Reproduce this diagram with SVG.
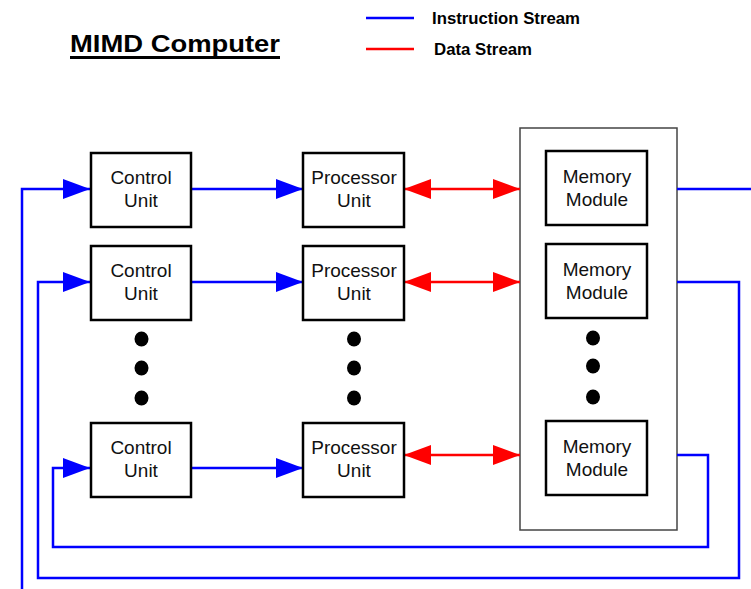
<svg xmlns="http://www.w3.org/2000/svg" width="751" height="589" viewBox="0 0 751 589">
<style>
.box{fill:#fff;stroke:#000;stroke-width:2.5}
.lbl{font-family:"Liberation Sans",Arial,sans-serif;font-size:19px;fill:#111;text-anchor:middle}
.blue{fill:none;stroke:#0000ff;stroke-width:2.5}
.red{fill:none;stroke:#ff0000;stroke-width:2.5}
.leg{font-family:"Liberation Sans",Arial,sans-serif;font-size:16px;font-weight:bold;fill:#000}
.dot{fill:#000}
</style>
<defs>
<marker id="ab" markerUnits="userSpaceOnUse" markerWidth="27" markerHeight="20" refX="27" refY="10" orient="auto" viewBox="0 0 27 20">
<path d="M0,0 L27,10 L0,20 Z" fill="#0000ff"/>
</marker>
<marker id="ar" markerUnits="userSpaceOnUse" markerWidth="27" markerHeight="20" refX="27" refY="10" orient="auto-start-reverse" viewBox="0 0 27 20">
<path d="M0,0 L27,10 L0,20 Z" fill="#ff0000"/>
</marker>
</defs>
<rect width="751" height="589" fill="#fff"/>

<g id="title">
<text x="70" y="52" font-family="'Liberation Sans',Arial,sans-serif" font-size="24" font-weight="bold" textLength="210" lengthAdjust="spacingAndGlyphs">MIMD Computer</text>
<line x1="70" y1="57.5" x2="280" y2="57.5" stroke="#000" stroke-width="3"/>
</g>
<g id="legend">
<line x1="366" y1="18" x2="414" y2="18" class="blue"/>
<text x="432" y="24" class="leg" textLength="148" lengthAdjust="spacingAndGlyphs">Instruction Stream</text>
<line x1="366" y1="49" x2="414" y2="49" class="red"/>
<text x="434" y="55" class="leg" textLength="98" lengthAdjust="spacingAndGlyphs">Data Stream</text>
</g>

<g id="memory">
<rect x="520" y="128" width="157" height="402" fill="#fff" stroke="#444" stroke-width="1.5"/>
</g>

<g id="connectors">
<line x1="191" y1="189" x2="303" y2="189" class="blue" marker-end="url(#ab)"/>
<line x1="191" y1="282" x2="303" y2="282" class="blue" marker-end="url(#ab)"/>
<line x1="191" y1="468" x2="303" y2="468" class="blue" marker-end="url(#ab)"/>
<line x1="404" y1="189" x2="520" y2="189" class="red" marker-start="url(#ar)" marker-end="url(#ar)"/>
<line x1="404" y1="282" x2="520" y2="282" class="red" marker-start="url(#ar)" marker-end="url(#ar)"/>
<line x1="404" y1="455" x2="520" y2="455" class="red" marker-start="url(#ar)" marker-end="url(#ar)"/>
<line x1="677" y1="189" x2="751" y2="189" class="blue"/>
<polyline points="22,589 22,189 90,189" class="blue" marker-end="url(#ab)"/>
<polyline points="677,282 739,282 739,578 38,578 38,282 90,282" class="blue" marker-end="url(#ab)"/>
<polyline points="677,455 708,455 708,547 53,547 53,468 90,468" class="blue" marker-end="url(#ab)"/>
</g>

<g id="cu1"><rect x="91" y="153" width="100" height="74" class="box"/><text class="lbl" x="141" y="184">Control</text><text class="lbl" x="141" y="207">Unit</text></g>
<g id="cu2"><rect x="91" y="246" width="100" height="74" class="box"/><text class="lbl" x="141" y="277">Control</text><text class="lbl" x="141" y="300">Unit</text></g>
<g id="cu3"><rect x="91" y="423" width="100" height="74" class="box"/><text class="lbl" x="141" y="454">Control</text><text class="lbl" x="141" y="477">Unit</text></g>

<g id="pu1"><rect x="303" y="153" width="101" height="74" class="box"/><text class="lbl" x="354" y="184">Processor</text><text class="lbl" x="354" y="207">Unit</text></g>
<g id="pu2"><rect x="303" y="246" width="101" height="74" class="box"/><text class="lbl" x="354" y="277">Processor</text><text class="lbl" x="354" y="300">Unit</text></g>
<g id="pu3"><rect x="303" y="423" width="101" height="74" class="box"/><text class="lbl" x="354" y="454">Processor</text><text class="lbl" x="354" y="477">Unit</text></g>

<g id="mm1"><rect x="546" y="151" width="101" height="74" class="box"/><text class="lbl" x="597" y="183">Memory</text><text class="lbl" x="597" y="206">Module</text></g>
<g id="mm2"><rect x="546" y="244" width="101" height="74" class="box"/><text class="lbl" x="597" y="276">Memory</text><text class="lbl" x="597" y="299">Module</text></g>
<g id="mm3"><rect x="546" y="421" width="101" height="74" class="box"/><text class="lbl" x="597" y="453">Memory</text><text class="lbl" x="597" y="476">Module</text></g>

<g id="dots">
<ellipse class="dot" cx="141.5" cy="339" rx="7" ry="7.5"/>
<ellipse class="dot" cx="141.5" cy="368" rx="7" ry="7.5"/>
<ellipse class="dot" cx="141.5" cy="398" rx="7" ry="7.5"/>
<ellipse class="dot" cx="354" cy="339" rx="7" ry="7.5"/>
<ellipse class="dot" cx="354" cy="368" rx="7" ry="7.5"/>
<ellipse class="dot" cx="354" cy="398" rx="7" ry="7.5"/>
<ellipse class="dot" cx="593" cy="338" rx="7" ry="7.5"/>
<ellipse class="dot" cx="593" cy="366" rx="7" ry="7.5"/>
<ellipse class="dot" cx="593" cy="397" rx="7" ry="7.5"/>
</g>
</svg>
